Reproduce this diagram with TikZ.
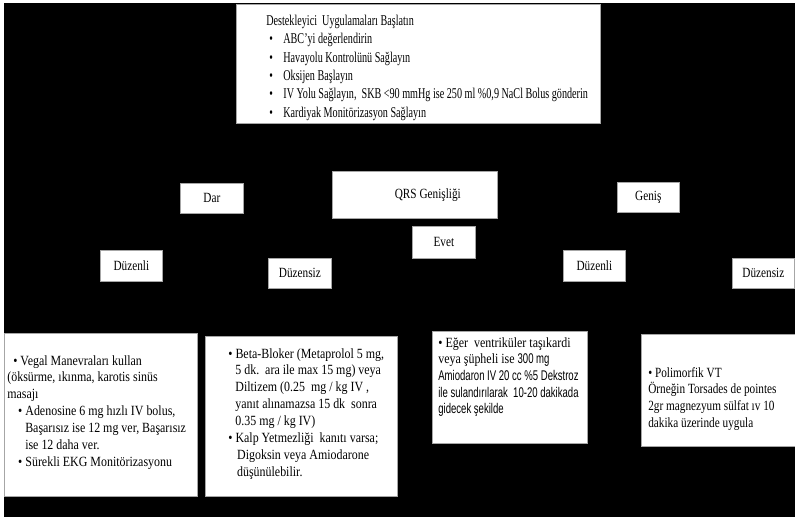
\documentclass[tikz,border=0pt]{standalone}
\usepackage{fontspec}
\setmainfont{Liberation Serif}
\newfontfamily\bodyfont{Liberation Serif}[FakeStretch=0.85]
\newfontfamily\topfont{Liberation Serif}[FakeStretch=0.68]
\newfontfamily\tagfont{Liberation Serif}[FakeStretch=0.8]
\newfontfamily\narrowsans{Liberation Sans}[FakeStretch=0.68]

\begin{document}
\begin{tikzpicture}[x=0.02cm, y=-0.02cm,
    box/.style={draw=gray!70, line width=0.4pt, fill=white, anchor=north west, inner sep=0pt},
    tag/.style={box, font=\tagfont\fontsize{8}{9.6}\selectfont},
    txt/.style={anchor=north west, inner sep=0pt, align=left, font=\bodyfont\fontsize{8}{9.6}\selectfont}]
  % 背景
  \useasboundingbox (0,0) rectangle (795,517);
  \fill[black] (4,3) rectangle (795,517);

  % 顶部：支持措施
  \node[box, minimum width=7.28cm, minimum height=2.38cm] (start) at (236,4) {};
  \node[txt, font=\topfont\fontsize{8.5}{10.4}\selectfont, xshift=0.6cm, yshift=-0.22cm] (starttxt) at (start.north west)
    {Destekleyici\ \ Uygulamaları Başlatın\\
     \hspace*{1.7pt}\makebox[8pt][l]{•}ABC’yi değerlendirin\\
     \hspace*{1.7pt}\makebox[8pt][l]{•}Havayolu Kontrolünü Sağlayın\\
     \hspace*{1.7pt}\makebox[8pt][l]{•}Oksijen Başlayın\\
     \hspace*{1.7pt}\makebox[8pt][l]{•}IV Yolu Sağlayın,\ \ SKB <90 mmHg ise 250 ml \%0,9 NaCl Bolus gönderin\\
     \hspace*{1.7pt}\makebox[8pt][l]{•}Kardiyak Monitörizasyon Sağlayın};

  % 中间：QRS 宽度
  \node[tag, minimum width=3.3cm, minimum height=0.94cm] (qrs) at (332,171) {\hspace*{0.52cm}QRS Genişliği};
  \node[tag, minimum width=1.26cm, minimum height=0.6cm] (dar) at (180,183) {Dar};
  \node[tag, minimum width=1.24cm, minimum height=0.6cm] (genis) at (617,182) {Geniş};
  \node[tag, minimum width=1.26cm, minimum height=0.64cm] (evet) at (412,226) {Evet};
  \node[tag, minimum width=1.24cm, minimum height=0.62cm] (darduz) at (100,250) {Düzenli};
  \node[tag, minimum width=1.26cm, minimum height=0.6cm] (dardsz) at (268,258) {Düzensiz};
  \node[tag, minimum width=1.24cm, minimum height=0.62cm] (genduz) at (563,250) {Düzenli};
  \node[tag, minimum width=1.24cm, minimum height=0.6cm] (gendsz) at (732,258) {Düzensiz};

  % 底部：治疗方案
  \node[box, minimum width=3.86cm, minimum height=3.26cm] (lft) at (4,333) {};
  \node[txt, xshift=0.06cm, yshift=-0.44cm] (lfttxt) at (lft.north west)
    {\hspace*{3.4pt}• Vegal Manevraları kullan\\
     (öksürme, ıkınma, karotis sinüs\\
     masajı\\
     \hspace*{6.2pt}• Adenosine 6 mg hızlı IV bolus,\\
     \hspace*{10.2pt}Başarısız ise 12 mg ver, Başarısız\\
     \hspace*{10.2pt}ise 12 daha ver.\\
     \hspace*{6.2pt}• Sürekli EKG Monitörizasyonu};

  \node[box, minimum width=3.84cm, minimum height=3.2cm] (mid) at (205,336) {};
  \node[txt, xshift=0.46cm, yshift=-0.24cm] (midtxt) at (mid.north west)
    {• Beta-Bloker (Metaprolol 5 mg,\\
     \hspace*{4pt}5 dk.\ \ ara ile max 15 mg) veya\\
     \hspace*{4pt}Diltizem (0.25\ \ mg / kg IV ,\\
     \hspace*{4pt}yanıt alınamazsa 15 dk\ \ sonra\\
     \hspace*{4pt}0.35 mg / kg IV)\\
     • Kalp Yetmezliği\ \ kanıtı varsa;\\
     \hspace*{5pt}Digoksin veya Amiodarone\\
     \hspace*{5pt}düşünülebilir.};

  \node[box, minimum width=3.1cm, minimum height=2.24cm] (vt) at (432,331) {};
  \node[txt, font=\bodyfont\fontsize{8}{9.5}\selectfont, xshift=0.12cm, yshift=-0.12cm] (vttxt) at (vt.north west)
    {• Eğer\ \ ventriküler taşıkardi\\
     veya şüpheli ise {\narrowsans 300 mg}\\
     {\narrowsans Amiodaron IV 20 cc \%5 Dekstroz}\\
     {\narrowsans ile sulandırılarak\ \ 10-20 dakikada}\\
     {\narrowsans gidecek şekilde}};

  \node[box, minimum width=3.08cm, minimum height=2.24cm] (poli) at (641,334) {};
  \node[txt, font=\tagfont\fontsize{8}{9.5}\selectfont, xshift=0.14cm, yshift=-0.66cm] (politxt) at (poli.north west)
    {• Polimorfik VT\\
     Örneğin Torsades de pointes\\
     2gr magnezyum sülfat ıv 10\\
     dakika üzerinde uygula};
\end{tikzpicture}
\end{document}
